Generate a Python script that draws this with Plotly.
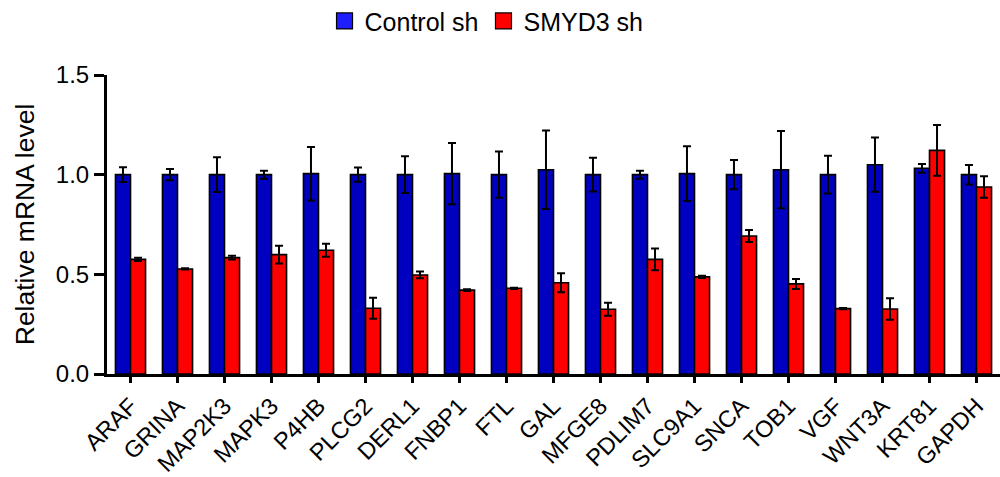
import plotly.graph_objects as go

genes = ["ARAF", "GRINA", "MAP2K3", "MAPK3", "P4HB", "PLCG2", "DERL1", "FNBP1", "FTL",
         "GAL", "MFGE8", "PDLIM7", "SLC9A1", "SNCA", "TOB1", "VGF", "WNT3A", "KRT81", "GAPDH"]
control = [1.00, 1.00, 1.00, 1.00, 1.005, 1.00, 1.00, 1.005, 1.00,
           1.025, 1.00, 1.00, 1.005, 1.00, 1.025, 1.00, 1.05, 1.032, 1.00]
control_err = [0.037, 0.028, 0.087, 0.02, 0.134, 0.036, 0.092, 0.154, 0.116,
               0.197, 0.085, 0.02, 0.137, 0.073, 0.194, 0.095, 0.136, 0.022, 0.049]
smyd3 = [0.575, 0.527, 0.584, 0.599, 0.621, 0.33, 0.497, 0.421, 0.43,
         0.458, 0.325, 0.575, 0.487, 0.692, 0.452, 0.328, 0.326, 1.122, 0.938]
smyd3_err = [0.008, 0.003, 0.009, 0.045, 0.033, 0.053, 0.017, 0.004, 0.003,
             0.048, 0.033, 0.054, 0.006, 0.03, 0.025, 0.003, 0.054, 0.127, 0.054]
y_ticks = [0.0, 0.5, 1.0, 1.5]
y_tick_text = ["0.0", "0.5", "1.0", "1.5"]

FONT = "Liberation Sans, Arial, sans-serif"
BLUE = "#0000C0"
RED = "#FF0000"

fig = go.Figure()
fig.add_trace(go.Bar(
    name="Control sh", x=genes, y=control, showlegend=False,
    marker=dict(color=BLUE, line=dict(color="black", width=1.6)),
    error_y=dict(type="data", array=control_err, visible=True, color="black", thickness=2, width=4),
))
fig.add_trace(go.Bar(
    name="SMYD3 sh", x=genes, y=smyd3, showlegend=False,
    marker=dict(color=RED, line=dict(color="black", width=1.6)),
    error_y=dict(type="data", array=smyd3_err, visible=True, color="black", thickness=2, width=4),
))
# legend entries (square swatches)
for name, col in [("Control sh", "#1E1EFF"), ("SMYD3 sh", RED)]:
    fig.add_trace(go.Scatter(
        name=name, x=[None], y=[None], mode="markers", showlegend=True,
        marker=dict(symbol="square", size=16, color=col, line=dict(color="black", width=1.2)),
    ))

fig.update_layout(
    width=1000, height=477,
    margin=dict(l=107, r=0, t=75, b=103, autoexpand=False),
    paper_bgcolor="white", plot_bgcolor="white",
    barmode="group", bargap=0.36, bargroupgap=0,
    font=dict(family=FONT, color="black", size=22),
    legend=dict(orientation="h", x=0.425, xanchor="center", y=1.18, yanchor="middle",
                font=dict(size=25), itemwidth=30, traceorder="normal", itemsizing="trace"),
    showlegend=True,
)
fig.update_xaxes(
    range=[-0.5, 18.5], showline=True, linecolor="black", linewidth=3,
    ticks="outside", ticklen=6, tickwidth=2.5, tickcolor="black",
    tickangle=-45, tickfont=dict(size=23.5, family=FONT), showgrid=False, zeroline=False,
    automargin=False,
)
fig.update_yaxes(
    range=[0, 1.5], tickvals=y_ticks, ticktext=y_tick_text,
    showline=True, linecolor="black", linewidth=3,
    ticks="outside", ticklen=10, tickwidth=3, tickcolor="black",
    tickfont=dict(size=24, family=FONT), showgrid=False, zeroline=False,
    automargin=False,
    title=dict(text="Relative mRNA level", font=dict(size=26.5, family=FONT), standoff=14),
)

fig.write_html("out.html")
